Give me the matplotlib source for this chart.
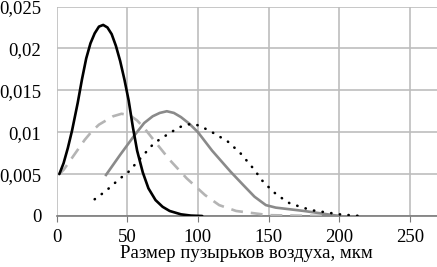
import numpy as np
import matplotlib
matplotlib.use('Agg')
import matplotlib.pyplot as plt
from matplotlib.ticker import FuncFormatter

# bubble size distributions
black_x = [2, 5, 8, 11, 15, 18, 21, 24, 27, 30, 33, 36, 39, 42, 45, 48, 51, 54, 57, 61, 65, 70, 75,
           80, 88, 95, 103]
black_y = [0.005, 0.0063, 0.0081, 0.0102, 0.0135, 0.0163, 0.0188, 0.0206, 0.0218, 0.0226, 0.0228,
           0.0225, 0.0217, 0.0203, 0.0185, 0.0163, 0.0138, 0.0106, 0.0078, 0.0052, 0.0033, 0.0019,
           0.0011, 0.0006, 0.0002, 0.00005, 0.0]

dash_x = [2, 5, 10, 15, 20, 25, 30, 35, 40, 46, 52, 57, 62, 70, 80, 92, 105, 115, 127, 150, 175, 200]
dash_y = [0.005, 0.0055, 0.0067, 0.0079, 0.0091, 0.0101, 0.0109, 0.0114, 0.0119, 0.0122, 0.0120,
          0.0114, 0.0105, 0.0088, 0.0067, 0.0045, 0.0025, 0.0013, 0.0006, 0.0001, 0.00003, 0.0]

gray_x = [35, 45, 55, 62, 68, 73, 78, 83, 88, 94, 100, 110, 123, 132, 140, 148, 155, 175, 200]
gray_y = [0.0049, 0.0073, 0.0096, 0.0111, 0.0119, 0.0123, 0.0125, 0.0123, 0.0118, 0.0110, 0.0100,
          0.0078, 0.0053, 0.0037, 0.0023, 0.0013, 0.0010, 0.0006, 0.0]

dot_x = [27, 35, 45, 50, 60, 69, 80, 87, 92, 97, 102, 110, 121, 130, 140, 145, 152, 156, 165, 180,
         200, 215]
dot_y = [0.002, 0.003, 0.0045, 0.0051, 0.007, 0.0087, 0.0099, 0.0106, 0.0109, 0.0110, 0.0107, 0.0100,
         0.0089, 0.0075, 0.0055, 0.0043, 0.0031, 0.0025, 0.0015, 0.0007, 0.0002, 0.0]

x_ticks = [0, 50, 100, 150, 200, 250]
y_ticks = [0, 0.005, 0.01, 0.015, 0.02, 0.025]

plt.rcParams['font.family'] = ['Liberation Serif', 'DejaVu Serif']
plt.rcParams['lines.solid_joinstyle'] = 'round'

W, H = 437, 267
fig = plt.figure(figsize=(W / 100, H / 100), dpi=100)
ax = fig.add_axes([56.5 / W, (H - 216) / H, (W - 56.5) / W, (216 - 6.5) / H])

ax.plot(black_x, black_y, color='black', lw=1.9, solid_capstyle='round', zorder=4)
ax.plot(dash_x, dash_y, color='#b4b4b4', lw=1.9, dashes=(4.5, 3), zorder=3)
ax.plot(gray_x, gray_y, color='#8a8a8a', lw=1.9, zorder=3)
ax.plot(dot_x, dot_y, color='black', lw=1.9, dashes=(0.1, 3.2), dash_capstyle='round', zorder=4)

ax.set_xlim(0, 269)
ax.set_ylim(0, 0.025)
ax.set_xticks(x_ticks)
ax.set_yticks(y_ticks)
ax.yaxis.set_major_formatter(FuncFormatter(lambda v, p: ('%g' % v).replace('.', ',')))

ax.grid(True, color='#bdbdbd', lw=1.2)
ax.set_axisbelow(True)
for s in ['top', 'right', 'left']:
    ax.spines[s].set_visible(False)
ax.spines['bottom'].set_color('#7a7a7a')
ax.spines['bottom'].set_linewidth(1.2)

ax.tick_params(axis='y', length=0, pad=11, labelsize=13.5)
ax.tick_params(axis='x', length=4, color='#7a7a7a', pad=5, labelsize=13.5)
ax.set_xlabel('Размер пузырьков воздуха, мкм', fontsize=13.5, labelpad=0)

plt.savefig('out.png', dpi=100)
plt.close()
